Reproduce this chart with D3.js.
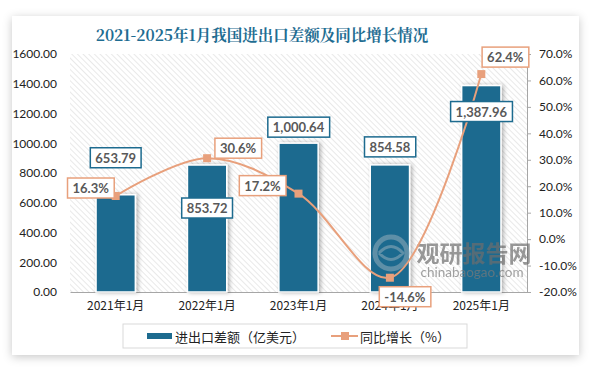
<!DOCTYPE html>
<html>
<head>
<meta charset="utf-8">
<script src="https://cdn.jsdelivr.net/npm/d3@7"></script>
<style>
  html, body { margin: 0; padding: 0; background: #fff; }
  svg { display: block; }
</style>
</head>
<body>
<svg id="chart" width="589" height="367"></svg>
<script>
// data
var categories = ["2021年1月", "2022年1月", "2023年1月", "2024年1月", "2025年1月"];
var diffValues = [653.79, 853.72, 1000.64, 854.58, 1387.96];
var growthValues = [16.3, 30.6, 17.2, -14.6, 62.4];
var leftTicks = [0, 200, 400, 600, 800, 1000, 1200, 1400, 1600];
var rightTicks = [-20, -10, 0, 10, 20, 30, 40, 50, 60, 70];
var titleText = "2021-2025年1月我国进出口差额及同比增长情况";
var legendNames = ["进出口差额（亿美元）", "同比增长（%）"];

var blue = "#1d6b8f", orange = "#e8a07c", labelGrey = "#595959";
var svg = d3.select("#chart");
var numFont = "Lato, 'Liberation Sans', sans-serif";
var cjkFont = "'Noto Sans CJK SC', sans-serif";

var defs = svg.append("defs");
var sh = defs.append("filter").attr("id", "cardShadow")
    .attr("x", "-5%").attr("y", "-5%").attr("width", "110%").attr("height", "112%");
sh.append("feDropShadow").attr("dx", 0).attr("dy", 2).attr("stdDeviation", 5)
    .attr("flood-color", "#000").attr("flood-opacity", 0.22);
var bsh = defs.append("filter").attr("id", "barShadow")
    .attr("x", "-40%").attr("y", "-10%").attr("width", "180%").attr("height", "120%");
bsh.append("feDropShadow").attr("dx", 2).attr("dy", 0).attr("stdDeviation", 2)
    .attr("flood-color", "#000").attr("flood-opacity", 0.3);
var pat = defs.append("pattern").attr("id", "hatch")
    .attr("width", 4).attr("height", 4).attr("patternUnits", "userSpaceOnUse")
    .attr("patternTransform", "rotate(-45)");
pat.append("line").attr("x1", 0).attr("y1", 0).attr("x2", 0).attr("y2", 4)
    .attr("stroke", "#d4d4d4").attr("stroke-width", 1);

// card
svg.append("rect").attr("x", 12).attr("y", 16).attr("width", 567).attr("height", 339)
    .attr("fill", "#fff").attr("filter", "url(#cardShadow)");

// title
svg.append("text").attr("x", 262).attr("y", 41).attr("text-anchor", "middle")
    .attr("font-family", "'Noto Serif CJK SC', " + cjkFont).attr("font-weight", "bold")
    .attr("font-size", 15.5).attr("fill", "#1f6d92").text(titleText);

var plotL = 70, plotR = 527, plotT = 54, plotB = 292;

var x = d3.scaleBand().domain(categories).range([plotL, plotR]).paddingInner(0.57).paddingOuter(0.285);
var yL = d3.scaleLinear().domain([0, 1600]).range([plotB, plotT]);
var yR = d3.scaleLinear().domain([-20, 70]).range([plotB, plotT]);
var cx = function (i) { return x(categories[i]) + x.bandwidth() / 2; };

// hatched plot area
svg.append("rect").attr("x", plotL).attr("y", plotT).attr("width", plotR - plotL)
    .attr("height", plotB - plotT).attr("fill", "url(#hatch)");

// left axis
var gL = svg.append("g").attr("transform", "translate(" + plotL + ",0)")
    .call(d3.axisLeft(yL).tickValues(leftTicks).tickFormat(d3.format(".2f")).tickSize(0).tickPadding(13));
gL.select(".domain").remove();
gL.selectAll("text").attr("font-family", numFont).attr("font-size", 12).attr("fill", "#222");

// right axis
var gR = svg.append("g").attr("transform", "translate(" + plotR + ",0)")
    .call(d3.axisRight(yR).tickValues(rightTicks).tickFormat(function (d) { return d.toFixed(1) + "%"; })
        .tickSizeInner(4).tickSizeOuter(0).tickPadding(8));
gR.select(".domain").attr("stroke", "#a6a6a6");
gR.selectAll("line").attr("stroke", "#a6a6a6");
gR.selectAll("text").attr("font-family", numFont).attr("font-size", 12).attr("fill", "#222");

// bottom axis
var gB = svg.append("g").attr("transform", "translate(0," + plotB + ")")
    .call(d3.axisBottom(x).tickSize(0).tickPadding(9));
gB.select(".domain").attr("stroke", "#a6a6a6");
gB.selectAll("text").attr("font-family", cjkFont).attr("font-size", 12).attr("fill", "#222");

// bars
svg.append("g").selectAll("rect").data(diffValues).join("rect")
    .attr("x", function (d, i) { return x(categories[i]); })
    .attr("y", function (d) { return yL(d); })
    .attr("width", x.bandwidth())
    .attr("height", function (d) { return plotB - yL(d); })
    .attr("fill", blue).attr("stroke", "#fff").attr("stroke-width", 1.5)
    .attr("filter", "url(#barShadow)");

// watermark
var wm = svg.append("g").attr("opacity", 0.7);
wm.append("circle").attr("cx", 391).attr("cy", 253).attr("r", 16)
    .attr("fill", "none").attr("stroke", "#7a9fb2").attr("stroke-width", 5);
wm.append("path").attr("d", "M379,253 Q391,240 403,253 Q391,266 379,253")
    .attr("fill", "none").attr("stroke", "#7a9fb2").attr("stroke-width", 3);
wm.append("text").attr("x", 474).attr("y", 262).attr("text-anchor", "middle")
    .attr("font-family", cjkFont).attr("font-weight", "bold").attr("font-size", 23)
    .attr("fill", "#6e6e6e").text("观研报告网");
wm.append("text").attr("x", 472).attr("y", 277).attr("text-anchor", "middle")
    .attr("font-family", numFont).attr("font-size", 13.5)
    .attr("fill", "#7a7a7a").text("chinabaogao.com");

// growth line
var line = d3.line().x(function (d, i) { return cx(i); }).y(function (d) { return yR(d); })
    .curve(d3.curveCatmullRom.alpha(0.5));
svg.append("path").datum(growthValues).attr("d", line)
    .attr("fill", "none").attr("stroke", orange).attr("stroke-width", 2);
svg.append("g").selectAll("rect").data(growthValues).join("rect")
    .attr("x", function (d, i) { return cx(i) - 4; })
    .attr("y", function (d) { return yR(d) - 4; })
    .attr("width", 8).attr("height", 8).attr("fill", orange);

// label boxes
function boxLabel(g, px, py, txt, color) {
  var t = g.append("text").attr("x", px).attr("y", py).attr("text-anchor", "middle")
      .attr("dominant-baseline", "central").attr("font-family", numFont)
      .attr("font-weight", "bold").attr("font-size", 13).attr("fill", labelGrey).text(txt);
  var b = t.node().getBBox();
  g.insert("rect", "text").attr("x", b.x - 5).attr("y", py - 10)
      .attr("width", b.width + 10).attr("height", 20)
      .attr("fill", "#fff").attr("stroke", color).attr("stroke-width", 1.5);
}
var valueDy = [-37, 43, -16, -18, 26];
var growthDx = [-25, 31, -36, 15, 24];
var growthDy = [-8, -10, -8, 19, -17];
var fmt = d3.format(",.2f");
diffValues.forEach(function (v, i) {
  boxLabel(svg.append("g"), cx(i), yL(v) + valueDy[i], fmt(v), blue);
});
growthValues.forEach(function (v, i) {
  boxLabel(svg.append("g"), cx(i) + growthDx[i], yR(v) + growthDy[i], v.toFixed(1) + "%", orange);
});

// legend
var lg = svg.append("g");
lg.append("rect").attr("x", 123).attr("y", 324).attr("width", 344).attr("height", 24)
    .attr("fill", "#fff").attr("stroke", "#d9d9d9");
lg.append("rect").attr("x", 147).attr("y", 333).attr("width", 25).attr("height", 6).attr("fill", blue);
lg.append("text").attr("x", 175).attr("y", 336).attr("dominant-baseline", "central")
    .attr("font-family", cjkFont).attr("font-size", 13).attr("fill", "#222").text(legendNames[0]);
lg.append("line").attr("x1", 331).attr("x2", 358).attr("y1", 336).attr("y2", 336)
    .attr("stroke", orange).attr("stroke-width", 2);
lg.append("rect").attr("x", 341).attr("y", 332).attr("width", 8).attr("height", 8).attr("fill", orange);
lg.append("text").attr("x", 360).attr("y", 336).attr("dominant-baseline", "central")
    .attr("font-family", cjkFont).attr("font-size", 13).attr("fill", "#222").text(legendNames[1]);
</script>
</body>
</html>
